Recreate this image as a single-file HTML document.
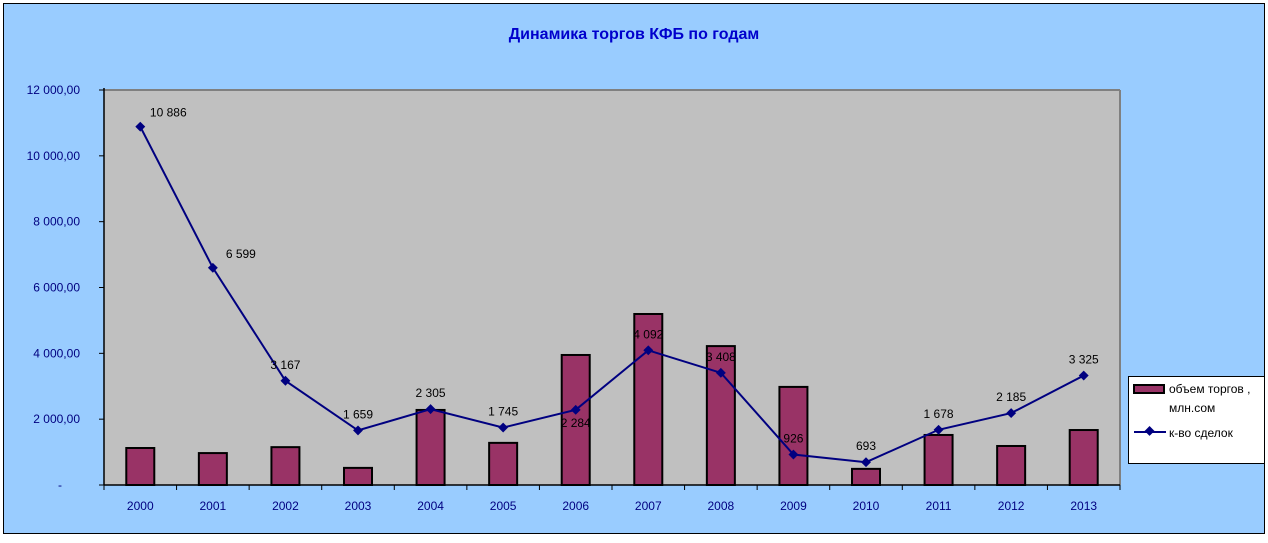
<!DOCTYPE html>
<html><head><meta charset="utf-8"><style>
body{margin:0;background:#fff;}
svg text{font-family:"Liberation Sans",sans-serif;}
</style></head><body>
<svg width="1268" height="538" xmlns="http://www.w3.org/2000/svg">
<rect x="0" y="0" width="1268" height="538" fill="#fff"/>
<rect x="3.5" y="3.5" width="1261" height="530" fill="#99CCFF" stroke="#000" stroke-width="1"/>
<text x="634" y="39" text-anchor="middle" font-size="16" font-weight="bold" fill="#0000CC">Динамика торгов КФБ по годам</text>
<rect x="104" y="90" width="1016" height="395" fill="#C0C0C0"/>
<line x1="104" y1="90" x2="1120" y2="90" stroke="#808080" stroke-width="2"/>
<line x1="1120" y1="90" x2="1120" y2="485" stroke="#808080" stroke-width="2"/>
<g id="axes"></g>
<g id="bars"></g>
<g id="line"></g>
<g>
<rect x="1128.5" y="376.5" width="136" height="87" fill="#fff" stroke="#000"/>
<rect x="1134" y="385" width="30" height="8" fill="#993366" stroke="#000" stroke-width="2"/>
<text x="1169" y="393" font-size="12" fill="#000">объем торгов ,</text>
<text x="1169" y="412" font-size="12" fill="#000">млн.сом</text>
<line x1="1134" y1="432" x2="1166" y2="432" stroke="#000080" stroke-width="2"/>
<rect x="1145" y="427" width="7" height="7" transform="rotate(45 1148.5 432)" fill="#000080"/>
<text x="1169" y="437" font-size="12" fill="#000">к-во сделок</text>
</g>
</svg>
<script>
const categories=["2000","2001","2002","2003","2004","2005","2006","2007","2008","2009","2010","2011","2012","2013"];
const volume=[1124,970,1150,520,2280,1280,3950,5195,4220,2980,490,1520,1185,1670];
const deals=[10886,6599,3167,1659,2305,1745,2284,4092,3408,926,693,1678,2185,3325];
const dealLabels=["10 886","6 599","3 167","1 659","2 305","1 745","2 284","4 092","3 408","926","693","1 678","2 185","3 325"];
const yTicks=[0,2000,4000,6000,8000,10000,12000];
const yTickLabels=["-","2 000,00","4 000,00","6 000,00","8 000,00","10 000,00","12 000,00"];
const NS="http://www.w3.org/2000/svg";
const X0=104,X1=1120,Y0=485,Y1=90,YMAX=12000;
const bw=(X1-X0)/categories.length;
function xc(i){return X0+bw*(i+0.5);}
function y(v){return Y0-(v/YMAX)*(Y0-Y1);}
function mk(tag,attrs,parent){const e=document.createElementNS(NS,tag);for(const k in attrs)e.setAttribute(k,attrs[k]);parent.appendChild(e);return e;}
const axes=document.getElementById('axes'),bars=document.getElementById('bars'),line=document.getElementById('line');
mk('line',{x1:X0,y1:Y1-2,x2:X0,y2:Y0,stroke:'#000','stroke-width':1.5},axes);
mk('line',{x1:X0,y1:Y0,x2:X1,y2:Y0,stroke:'#000','stroke-width':1.5},axes);
yTicks.forEach((t,i)=>{
 mk('line',{x1:X0-5,y1:y(t),x2:X0,y2:y(t),stroke:'#000'},axes);
 const tx=mk('text',{x:i===0?62:80,y:y(t)+4,'text-anchor':'end','font-size':12,fill:'#000080'},axes);
 tx.textContent=yTickLabels[i];
 
 
});
for(let i=0;i<=categories.length;i++){mk('line',{x1:X0+bw*i,y1:Y0,x2:X0+bw*i,y2:Y0+5,stroke:'#000'},axes);}
categories.forEach((c,i)=>{
 const tx=mk('text',{x:xc(i),y:510,'text-anchor':'middle','font-size':12,fill:'#000080'},axes);
 tx.textContent=c;
 
 
 const r=mk('rect',{x:xc(i)-14,y:y(volume[i]),width:28,height:Y0-y(volume[i]),fill:'#993366',stroke:'#000','stroke-width':2},bars);
 
 
});
const pl=mk('polyline',{points:deals.map((d,i)=>xc(i)+','+y(d)).join(' '),fill:'none',stroke:'#000080','stroke-width':2},line);


deals.forEach((d,i)=>{
 const m=mk('rect',{x:xc(i)-3.5,y:y(d)-3.5,width:7,height:7,fill:'#000080',transform:'rotate(45 '+xc(i)+' '+y(d)+')'},line);
 
 
 let lx=xc(i),ly=y(d)-12;
 if(i<2){lx=xc(i)+28;ly=y(d)-10;}
 if(i===6){ly=y(d)+17;}
 const t=mk('text',{x:lx,y:ly,'text-anchor':'middle','font-size':12,fill:'#000'},line);
 t.textContent=dealLabels[i];
 
 
});
</script>
</body></html>
